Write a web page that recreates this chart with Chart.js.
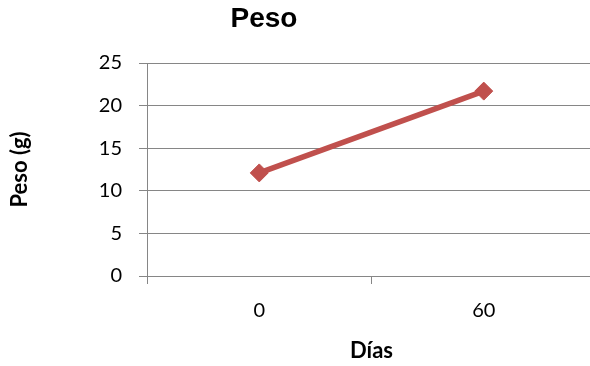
<!DOCTYPE html>
<html>
<head>
<meta charset="utf-8">
<title>Peso</title>
<script src="https://cdn.jsdelivr.net/npm/chart.js@4"></script>
<style>
  html, body { margin: 0; padding: 0; background: #fff; overflow: hidden; }
  #wrap { width: 596px; height: 366px; }
</style>
</head>
<body>
<div id="wrap"><canvas id="pesoChart" width="596" height="366"></canvas></div>
<script>
// Datos
const dias = ['0', '60'];
const peso = [12.1, 21.7];
const yTicks = [0, 5, 10, 15, 20, 25];

const rojo = '#C0504D';
const gris = '#868686';

// Título del gráfico (dibujado a mano para poder centrarlo libremente)
const tituloPlugin = {
    id: 'tituloPeso',
    afterDraw(chart, args, opts) {
        const ctx = chart.ctx;
        ctx.save();
        ctx.font = 'bold 28px "Liberation Sans", Arial, sans-serif';
        ctx.fillStyle = '#000';
        ctx.textAlign = 'center';
        ctx.textBaseline = 'middle';
        ctx.fillText(opts.text, opts.x, opts.y);
        ctx.restore();
    }
};

const ctx = document.getElementById('pesoChart').getContext('2d');
new Chart(ctx, {
    type: 'line',
    data: {
        labels: dias,
        datasets: [{
            label: 'Peso',
            data: peso,
            borderColor: rojo,
            backgroundColor: rojo,
            borderWidth: 5.5,
            pointStyle: 'rectRot',
            pointRadius: 9,
            pointBorderWidth: 1,
            pointBackgroundColor: rojo,
            pointBorderColor: rojo,
            tension: 0,
            fill: false,
            clip: false
        }]
    },
    options: {
        responsive: false,
        animation: false,
        layout: {
            autoPadding: false,
            padding: { top: 63, right: 0, bottom: 0, left: 0 }
        },
        plugins: {
            legend: { display: false },
            tooltip: { enabled: false },
            title: { display: false },
            tituloPeso: { text: 'Peso', x: 264, y: 19 }
        },
        scales: {
            x: {
                offset: true,
                grid: {
                    offset: true,
                    drawOnChartArea: false,
                    drawTicks: true,
                    tickLength: 8,
                    color: gris
                },
                border: { display: true, color: gris },
                ticks: {
                    color: '#000',
                    padding: 15,
                    font: { family: 'Lato', size: 20 }
                },
                title: {
                    display: true,
                    text: 'Días',
                    color: '#000',
                    padding: { top: 2, bottom: 2 },
                    font: { family: 'Lato', size: 22, weight: 'bold' }
                },
                afterFit(scale) {
                    // el área del gráfico llega hasta el borde derecho
                    scale.height = 90;
                    scale.paddingLeft = 0;
                    scale.paddingRight = 0;
                }
            },
            y: {
                min: 0,
                max: 25,
                afterBuildTicks(scale) {
                    scale.ticks = yTicks.map(v => ({ value: v }));
                },
                grid: {
                    color: gris,
                    lineWidth: 1,
                    drawTicks: true,
                    tickLength: 8
                },
                border: { display: true, color: gris },
                ticks: {
                    color: '#000',
                    padding: 17,
                    font: { family: 'Lato', size: 20 }
                },
                title: {
                    display: true,
                    text: 'Peso (g)',
                    color: '#000',
                    padding: { top: 7, bottom: 0 },
                    font: { family: 'Lato', size: 22, weight: 'bold' }
                },
                afterFit(scale) { scale.width = 147; }
            }
        }
    },
    plugins: [tituloPlugin]
});
</script>
</body>
</html>
